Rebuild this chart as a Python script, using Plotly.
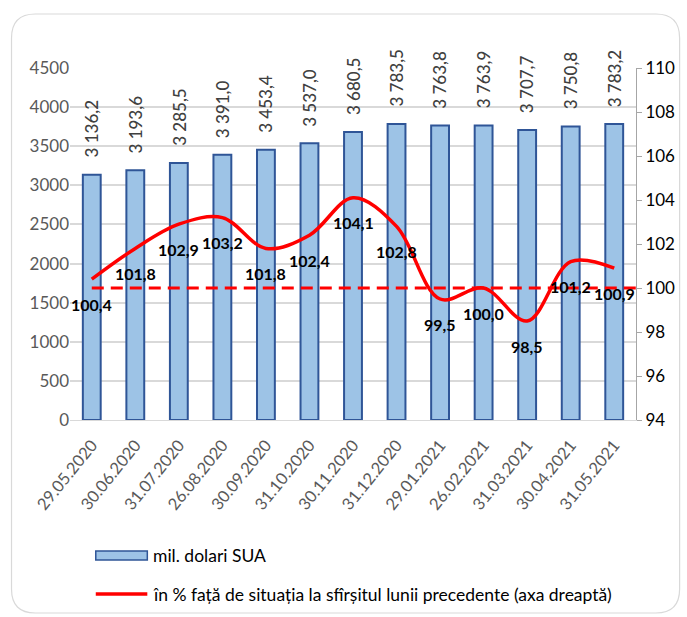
import plotly.graph_objects as go

dates = ["29.05.2020", "30.06.2020", "31.07.2020", "26.08.2020", "30.09.2020",
         "31.10.2020", "30.11.2020", "31.12.2020", "29.01.2021", "26.02.2021",
         "31.03.2021", "30.04.2021", "31.05.2021"]
reserves = [3136.2, 3193.6, 3285.5, 3391.0, 3453.4, 3537.0, 3680.5,
            3783.5, 3763.8, 3763.9, 3707.7, 3750.8, 3783.2]
pct_prev = [100.4, 101.8, 102.9, 103.2, 101.8, 102.4, 104.1,
            102.8, 99.5, 100.0, 98.5, 101.2, 100.9]
left_ticks = [0, 500, 1000, 1500, 2000, 2500, 3000, 3500, 4000, 4500]
right_ticks = [94, 96, 98, 100, 102, 104, 106, 108, 110]
baseline = 100
legend_bar = "mil. dolari SUA"
legend_line = "în % față de situația la sfîrșitul lunii precedente (axa dreaptă)"

W, H = 687, 617
L, R, T, B = 70, 46, 68, 197
PW, PH = W - L - R, H - T - B


def px(xp):
    return (xp - L) / PW


def py(yp):
    return (H - B - yp) / PH


def fmt(v):
    return f"{v:,.1f}".replace(",", " ").replace(".", ",")


FONT = "Lato"
idx = list(range(len(dates)))

fig = go.Figure()
fig.add_trace(go.Bar(
    x=idx, y=reserves, name=legend_bar,
    marker=dict(color="#9DC3E6", line=dict(color="#2F5597", width=2)),
    width=0.41, yaxis="y", hoverinfo="y"))
fig.add_trace(go.Scatter(
    x=idx, y=pct_prev, name=legend_line, mode="lines",
    line=dict(color="#FF0000", width=3.5, shape="spline", smoothing=1),
    yaxis="y2"))

annotations = []
for i, v in zip(idx, reserves):
    annotations.append(dict(
        x=i, y=v, xref="x", yref="y", text=fmt(v), showarrow=False,
        textangle=-90, yanchor="bottom", xanchor="center", yshift=15,
        font=dict(family=FONT, size=17, color="#404040", weight=500)))
for i, v in zip(idx, pct_prev):
    annotations.append(dict(
        x=i, y=v, xref="x", yref="y2", text=fmt(v), showarrow=False,
        yanchor="middle", xanchor="center", yshift=-25,
        font=dict(family=FONT, size=16, color="#000000", weight="bold")))

# legend (drawn manually)
annotations.append(dict(x=px(152), y=py(555), xref="paper", yref="paper",
                        text=legend_bar, showarrow=False, xanchor="left",
                        yanchor="middle",
                        font=dict(family=FONT, size=17.5, color="#000000")))
annotations.append(dict(x=px(152), y=py(594), xref="paper", yref="paper",
                        text=legend_line, showarrow=False, xanchor="left",
                        yanchor="middle",
                        font=dict(family=FONT, size=17.5, color="#000000")))

shapes = []
shapes.append(dict(type="line", xref="x", yref="y2", x0=0, x1=len(dates) - 0.5,
                   y0=baseline, y1=baseline,
                   line=dict(color="#FF0000", width=3, dash="12px,7px")))
shapes.append(dict(type="rect", xref="paper", yref="paper",
                   x0=px(96), x1=px(148), y0=py(560), y1=py(551),
                   fillcolor="#9DC3E6", line=dict(color="#2F5597", width=1.5)))
shapes.append(dict(type="line", xref="paper", yref="paper",
                   x0=px(96), x1=px(148), y0=py(594), y1=py(594),
                   line=dict(color="#FF0000", width=3.5)))

# rounded chart border
bx0, bx1, by0, by1, r = 11, 685, 14, 613, 24
path = (f"M {px(bx0 + r)},{py(by0)} L {px(bx1 - r)},{py(by0)} "
        f"Q {px(bx1)},{py(by0)} {px(bx1)},{py(by0 + r)} "
        f"L {px(bx1)},{py(by1 - r)} Q {px(bx1)},{py(by1)} {px(bx1 - r)},{py(by1)} "
        f"L {px(bx0 + r)},{py(by1)} Q {px(bx0)},{py(by1)} {px(bx0)},{py(by1 - r)} "
        f"L {px(bx0)},{py(by0 + r)} Q {px(bx0)},{py(by0)} {px(bx0 + r)},{py(by0)} Z")
shapes.append(dict(type="path", xref="paper", yref="paper", path=path,
                   line=dict(color="#D9D9D9", width=1.2), layer="below"))

fig.update_layout(
    width=W, height=H,
    margin=dict(l=L, r=R, t=T, b=B),
    paper_bgcolor="white", plot_bgcolor="white",
    showlegend=False,
    font=dict(family=FONT),
    xaxis=dict(range=[-0.5, len(dates) - 0.5], tickmode="array",
               tickvals=idx, ticktext=dates, tickangle=-51,
               tickfont=dict(family=FONT, size=16.5, color="#595959"),
               ticklabelstandoff=8,
               showgrid=False, zeroline=False, showline=True,
               linecolor="#D9D9D9", linewidth=1, ticks=""),
    yaxis=dict(range=[0, 4500], tickvals=left_ticks,
               tickfont=dict(family=FONT, size=17, color="#595959"),
               showgrid=True, gridcolor="#D9D9D9", gridwidth=1.5,
               zeroline=False, showline=False, ticks="", ticklen=0),
    yaxis2=dict(range=[94, 110], tickvals=right_ticks, overlaying="y",
                side="right", showgrid=False, zeroline=False,
                showline=True, linecolor="#A6A6A6", linewidth=1,
                ticks="outside", ticklen=5, tickcolor="#A6A6A6",
                tickfont=dict(family=FONT, size=17, color="#000000")),
    annotations=annotations, shapes=shapes,
)

fig.write_html("out.html", config={"displayModeBar": False},
               post_script="document.body.style.margin='0';document.body.style.overflow='hidden';")
